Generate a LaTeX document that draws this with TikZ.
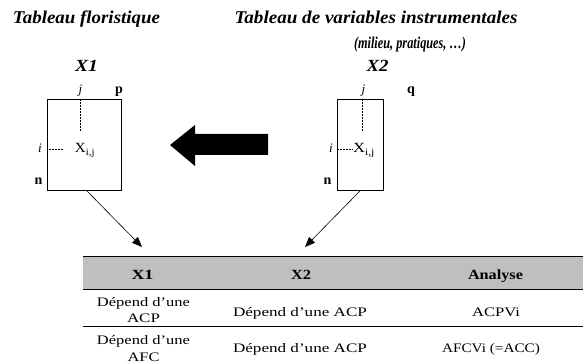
\documentclass[tikz,border=0pt]{standalone}
\usepackage{fontspec}
\usepackage{graphicx}
\setmainfont{Liberation Serif}
\usetikzlibrary{arrows.meta}
% set a text to a given width, keeping its height
\newcommand{\fitw}[2]{\resizebox{#1}{\height}{#2}}
\begin{document}
\begin{tikzpicture}[x=1pt,y=-1pt,
  every node/.style={inner sep=0pt, anchor=base},
  title/.style={font=\fontsize{18}{20}\selectfont\bfseries\itshape},
  subtitle/.style={font=\fontsize{16.5}{18}\selectfont\bfseries\itshape},
  matname/.style={font=\fontsize{17}{19}\selectfont\bfseries\itshape},
  dimlbl/.style={font=\fontsize{14}{16}\selectfont\bfseries},
  idxlbl/.style={font=\fontsize{13}{15}\selectfont\itshape},
  cell/.style={font=\fontsize{14}{16}\selectfont},
  matbox/.style={draw, line width=0.8pt, anchor=center},
  guide/.style={densely dotted, line width=0.5pt},
  conn/.style={line width=0.6pt, -{Triangle[length=10pt,width=8pt]}},
  tabtxt/.style={font=\fontsize{13}{15}\selectfont},
  tabhead/.style={font=\fontsize{14}{16}\selectfont\bfseries},
  rule/.style={line width=0.9pt}]
\useasboundingbox (0,0) rectangle (583,363);

% titles
\node[title] (t1) at (86.5,24) {\fitw{147pt}{Tableau floristique}};
\node[title] (t2) at (376,24) {\fitw{283pt}{Tableau de variables instrumentales}};
\node[subtitle] (t3) at (410,49) {\fitw{112pt}{(milieu, pratiques, \dots)}};

% matrix X1
\node[matname] (m1) at (86.5,71.5) {\fitw{23pt}{X1}};
\node[matbox, minimum width=74pt, minimum height=91pt] (b1) at (84.5,144.7) {};
\node[idxlbl] (j1) at (80.5,94) {j};
\node[dimlbl] (p1) at (119,94) {p};
\node[idxlbl] (i1) at (40,153) {i};
\node[dimlbl] (n1) at (38.5,185) {n};
\node[cell] (x1) at (85,153) {\fitw{20pt}{X\textsubscript{i,j}}};
\coordinate (v1) at (80,131.5);
\coordinate (h1) at (62.5,149.3);
\draw[guide] (b1.north -| v1) -- (v1);
\draw[guide] (b1.west |- h1) -- (h1);

% matrix X2
\node[matname] (m2) at (377.5,71.5) {\fitw{22pt}{X2}};
\node[matbox, minimum width=46pt, minimum height=91pt] (b2) at (360.3,144.7) {};
\node[idxlbl] (j2) at (363.5,94) {j};
\node[dimlbl] (q2) at (411,94) {q};
\node[idxlbl] (i2) at (331,153) {i};
\node[dimlbl] (n2) at (327.5,185) {n};
\node[cell] (x2) at (364,153) {\fitw{22pt}{X\textsubscript{i,j}}};
\coordinate (v2) at (362.3,131);
\coordinate (h2) at (352,149.3);
\draw[guide] (b2.north -| v2) -- (v2);
\draw[guide] (b2.west |- h2) -- (h2);

% big arrow from X2 towards X1
\fill (170,145) -- (195,125) -- (195,134) -- (268,134) -- (268,155) -- (195,155) -- (195,166) -- cycle;

% table
\fill[gray!50] (83,256) rectangle (583,289);
\draw[rule] (83,256) -- (583,256);
\draw[rule] (83,289) -- (583,289);
\draw[rule] (83,326) -- (583,326);

\node[tabhead] (c1) at (142.5,279.5) {\fitw{22pt}{X1}};
\node[tabhead] (c2) at (301,279.5) {\fitw{20pt}{X2}};
\node[tabhead] (c3) at (495.5,279.5) {\fitw{55pt}{Analyse}};

\node[tabtxt] (r11a) at (143.5,306) {\fitw{93pt}{Dépend d'une}};
\node[tabtxt] (r11b) at (143.5,322) {\fitw{33pt}{ACP}};
\node[tabtxt] (r12) at (300,316) {\fitw{134pt}{Dépend d'une ACP}};
\node[tabtxt] (r13) at (496,316) {\fitw{48pt}{ACPVi}};
\node[tabtxt] (r21a) at (143.5,344) {\fitw{93pt}{Dépend d'une}};
\node[tabtxt] (r21b) at (143.5,361) {\fitw{32pt}{AFC}};
\node[tabtxt] (r22) at (300,352) {\fitw{134pt}{Dépend d'une ACP}};
\node[tabtxt] (r23) at (491,352) {\fitw{98pt}{AFCVi (=ACC)}};

% connectors into the table
\coordinate (a1) at (142,247);
\coordinate (a2) at (305,247);
\draw[conn] (86,190) -- (a1);
\draw[conn] (b2.south) -- (a2);
\end{tikzpicture}
\end{document}
